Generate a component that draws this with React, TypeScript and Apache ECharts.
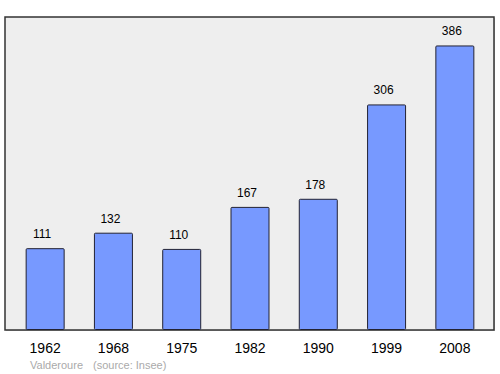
import React, { useEffect, useRef } from "react";
import * as echarts from "echarts";

const years = ["1962", "1968", "1975", "1982", "1990", "1999", "2008"];
const population = [111, 132, 110, 167, 178, 306, 386];
const placeName = "Valderoure";
const sourceText = "(source: Insee)";

export default function App() {
  const ref = useRef<HTMLDivElement>(null);
  useEffect(() => {
    if (!ref.current) return;
    const chart = echarts.init(ref.current, undefined, { renderer: "svg" });
    chart.setOption({
      animation: false,
      backgroundColor: "#ffffff",
      textStyle: { fontFamily: "Liberation Sans" },
      graphic: [
        {
          type: "rect",
          shape: { x: 6, y: 18, width: 489, height: 313 },
          style: { fill: "#cccccc" },
          z: -11,
          silent: true,
        },
        {
          type: "rect",
          shape: { x: 5, y: 17, width: 489, height: 313 },
          style: { fill: "#eeeeee", stroke: "#333333", lineWidth: 1.5 },
          z: -10,
          silent: true,
        },
        {
          type: "text",
          x: 30,
          y: 359,
          style: { text: placeName, fill: "#aaaaaa", fontSize: 11, fontFamily: "Liberation Sans" },
        },
        {
          type: "text",
          x: 93,
          y: 359,
          style: { text: sourceText, fill: "#aaaaaa", fontSize: 11, fontFamily: "Liberation Sans" },
        },
      ],
      grid: { left: 11, right: 11, top: 17, bottom: 44 },
      xAxis: {
        type: "category",
        data: years,
        axisLine: { show: false },
        axisTick: { show: false },
        axisLabel: { color: "#000000", fontSize: 14, margin: 11, fontFamily: "Liberation Sans" },
      },
      yAxis: {
        type: "value",
        min: 0,
        max: 424.6,
        show: false,
        splitLine: { show: false },
      },
      series: [
        {
          type: "bar",
          data: population,
          barWidth: 39,
          itemStyle: { color: "#7799ff", borderColor: "#222233", borderWidth: 1, borderRadius: 1 },
          label: {
            show: true,
            position: "top",
            distance: 8,
            offset: [-3, 0],
            color: "#000000",
            fontSize: 12,
            fontFamily: "Liberation Sans",
          },
        },
      ],
    });
    return () => chart.dispose();
  }, []);
  return <div ref={ref} style={{ width: 500, height: 374, position: "absolute", left: 0, top: 0 }} />;
}
